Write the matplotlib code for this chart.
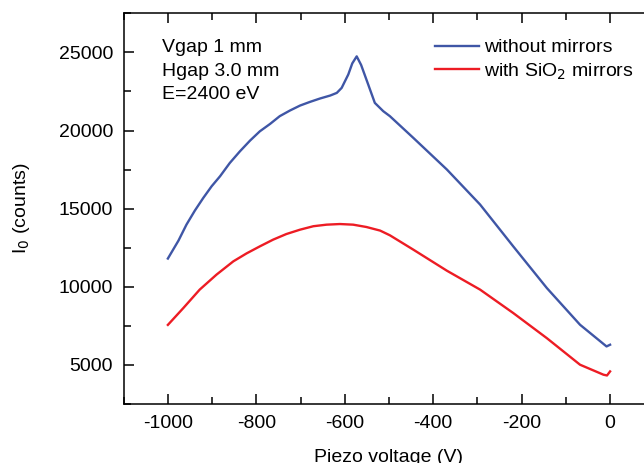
import matplotlib.pyplot as plt
from matplotlib.ticker import MultipleLocator

plt.rcParams['font.family'] = ['Liberation Sans', 'DejaVu Sans']
plt.rcParams['axes.unicode_minus'] = False

# Beam intensity vs piezo voltage
blue_x = [-1000, -976, -958, -939, -920, -901, -882, -860, -837, -814, -792,
          -769, -747, -724, -701, -679, -656, -633, -618, -607, -592, -583,
          -573, -563, -547, -532, -513, -498, -445, -369, -294, -219, -143,
          -68, -8, 0]
blue_y = [11800, 12950, 13970, 14870, 15680, 16430, 17070, 17920, 18670, 19360,
          19950, 20420, 20920, 21280, 21600, 21830, 22050, 22240, 22410, 22730,
          23590, 24300, 24750, 24200, 22950, 21770, 21240, 20920, 19530, 17500,
          15260, 12580, 9910, 7560, 6170, 6280]

red_x = [-1000, -965, -928, -890, -852, -822, -792, -762, -732, -701, -671,
         -641, -611, -581, -551, -520, -498, -445, -369, -294, -219, -143,
         -68, -15, -7, 0]
red_y = [7550, 8630, 9810, 10770, 11620, 12130, 12580, 13010, 13370, 13650,
         13870, 13970, 14010, 13970, 13820, 13590, 13290, 12370, 11020, 9810,
         8310, 6700, 5000, 4360, 4310, 4570]

x_ticks = [-1000, -800, -600, -400, -200, 0]
y_ticks = [5000, 10000, 15000, 20000, 25000]

fig = plt.figure(figsize=(6.44, 4.63), dpi=100)
ax = fig.add_axes([0.192, 0.128, 0.824, 0.843])

ax.plot(blue_x, blue_y, color='#3F56A6', lw=1.7, label='without mirrors')
ax.plot(red_x, red_y, color='#ED1C24', lw=1.7, label='with SiO$_2$ mirrors')

ax.set_xlim(-1100, 100)
ax.set_ylim(2500, 27500)
ax.set_xticks(x_ticks)
ax.set_yticks(y_ticks)
ax.xaxis.set_minor_locator(MultipleLocator(100))
ax.yaxis.set_minor_locator(MultipleLocator(2500))
ax.tick_params(which='both', direction='in', top=True, right=True,
               labelsize=14, width=1.1)
ax.tick_params(which='major', length=7)
ax.tick_params(which='minor', length=5)
ax.tick_params(axis='x', pad=8)
ax.tick_params(axis='y', pad=7.5)
for s in ax.spines.values():
    s.set_linewidth(1.1)

ax.set_xlabel('Piezo voltage (V)', fontsize=14, labelpad=12)
ax.set_ylabel('I$_0$ (counts)', fontsize=14, labelpad=19)

ax.text(0.072, 0.935, 'Vgap 1 mm\nHgap 3.0 mm\nE=2400 eV', transform=ax.transAxes,
        fontsize=14, va='top', ha='left', linespacing=1.52)

ax.legend(loc='upper left', bbox_to_anchor=(0.553, 0.98), frameon=False,
          fontsize=14, handlelength=2.3, handletextpad=0.25, labelspacing=0.25)

plt.savefig('out.png', dpi=100)
